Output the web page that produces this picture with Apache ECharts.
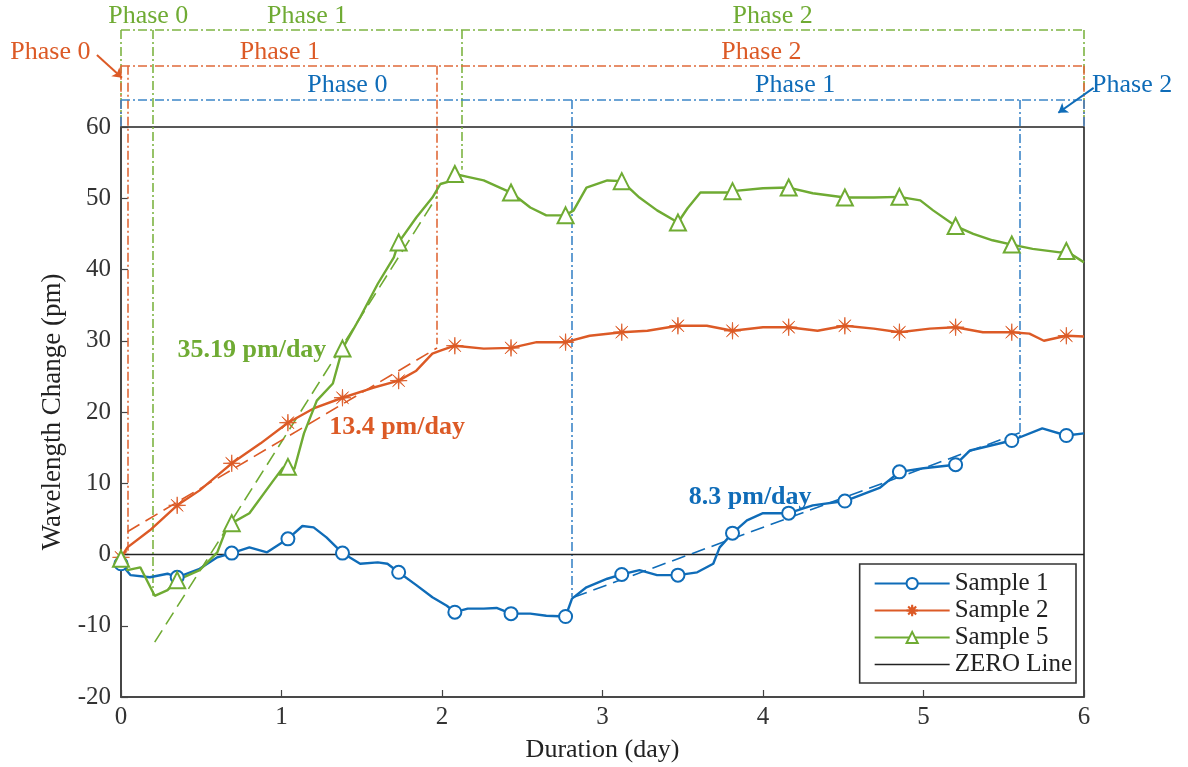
<!DOCTYPE html>
<html><head><meta charset="utf-8">
<script src="https://cdn.jsdelivr.net/npm/echarts@6/dist/echarts.min.js"></script>
<style>html,body{margin:0;padding:0;background:#fff}#main{width:1188px;height:767px}</style>
</head><body><div id="main"></div>
<script>
// ---------- data ----------
const markerDays = [0, 0.35, 0.69, 1.04, 1.38, 1.73, 2.08, 2.43, 2.77, 3.12, 3.47, 3.81, 4.16, 4.51, 4.85, 5.2, 5.55, 5.89];

const days1 = [0, 0.06, 0.18, 0.29, 0.35, 0.49, 0.6, 0.69, 0.8, 0.91, 1.04, 1.13, 1.2, 1.28, 1.38, 1.49, 1.6, 1.66, 1.73, 1.84, 1.94, 2.03, 2.08, 2.16, 2.26, 2.34, 2.43, 2.55, 2.65, 2.77, 2.81, 2.9, 3.03, 3.12, 3.23, 3.34, 3.47, 3.59, 3.69, 3.73, 3.81, 3.9, 4.0, 4.16, 4.31, 4.51, 4.73, 4.85, 5.0, 5.2, 5.29, 5.55, 5.74, 5.89, 6.0];
const vals1 = [-1.3, -2.9, -3.2, -2.7, -3.2, -2.0, -0.4, 0.2, 1.0, 0.3, 2.2, 4.0, 3.8, 2.4, 0.2, -1.3, -1.1, -1.3, -2.5, -4.3, -6.0, -7.2, -8.1, -7.6, -7.6, -7.5, -8.3, -8.3, -8.6, -8.7, -6.2, -4.6, -3.4, -2.8, -2.2, -2.9, -2.9, -2.5, -1.3, 1.0, 3.0, 4.8, 5.8, 5.8, 6.9, 7.5, 9.4, 11.6, 12.1, 12.6, 14.6, 16.0, 17.7, 16.7, 17.0];

const days2 = [0, 0.04, 0.18, 0.35, 0.49, 0.69, 0.87, 1.04, 1.2, 1.38, 1.57, 1.73, 1.84, 1.94, 1.99, 2.08, 2.26, 2.43, 2.59, 2.77, 2.92, 3.12, 3.28, 3.47, 3.65, 3.81, 4.0, 4.16, 4.34, 4.51, 4.69, 4.85, 5.04, 5.2, 5.37, 5.55, 5.66, 5.75, 5.89, 6.0];
const vals2 = [-0.4, 1.0, 3.4, 6.9, 9.0, 12.8, 15.6, 18.5, 20.5, 22.0, 23.4, 24.4, 25.8, 28.2, 28.6, 29.3, 28.9, 29.0, 29.8, 29.8, 30.7, 31.2, 31.4, 32.1, 32.1, 31.4, 31.9, 31.9, 31.4, 32.1, 31.7, 31.2, 31.7, 31.9, 31.2, 31.2, 31.0, 30.0, 30.7, 30.6];

const days5 = [0, 0.04, 0.12, 0.21, 0.29, 0.35, 0.49, 0.6, 0.66, 0.69, 0.8, 0.95, 1.01, 1.04, 1.08, 1.14, 1.22, 1.32, 1.38, 1.49, 1.6, 1.7, 1.73, 1.84, 1.94, 1.99, 2.07, 2.08, 2.16, 2.26, 2.36, 2.43, 2.55, 2.65, 2.77, 2.82, 2.9, 3.03, 3.12, 3.23, 3.34, 3.47, 3.53, 3.61, 3.78, 3.81, 4.0, 4.16, 4.31, 4.51, 4.69, 4.85, 4.98, 5.06, 5.2, 5.31, 5.43, 5.55, 5.68, 5.85, 5.89, 6.0];
const vals5 = [-0.6, -2.2, -1.8, -5.8, -5.0, -3.6, -2.2, 0.3, 3.8, 4.4, 5.8, 10.4, 12.2, 12.3, 12.0, 17.0, 21.6, 24.0, 28.9, 33.3, 38.0, 41.7, 43.8, 47.3, 50.1, 52.0, 52.5, 53.4, 53.0, 52.5, 51.5, 50.8, 48.7, 47.6, 47.6, 48.3, 51.5, 52.5, 52.4, 50.1, 48.3, 46.6, 48.6, 50.8, 50.8, 51.0, 51.4, 51.5, 50.7, 50.1, 50.1, 50.2, 49.7, 48.3, 46.1, 45.0, 44.1, 43.5, 42.9, 42.4, 42.6, 41.0];

// linear fits (dashed)
const fitDays1 = [2.82, 5.6],  fitVals1 = [-6.0, 17.1];
const fitDays2 = [0.04, 1.97], fitVals2 = [3.2, 29.0];
const fitDays5 = [0.21, 1.97], fitVals5 = [-12.3, 50.3];

const zeroDays = [0, 6], zeroVals = [0, 0];

// phase brackets (data coords)
const greenLevel = 73.6, redLevel = 68.6, blueLevel = 63.8;
const greenBounds = [0, 0.2, 2.12, 6],  greenBottoms = [60, -5.8, 54, 60];
const redBounds   = [0, 0.04, 1.97, 6], redBottoms   = [60, 0, 29.5, 60];
const blueBounds  = [0, 2.81, 5.6, 6],  blueBottoms  = [60, -6, 16.5, 60];

const phaseNames = ['Phase 0', 'Phase 1', 'Phase 2'];
const greenLabelX = [0.17, 1.16, 4.06], greenLabelY = 75.6;
const redLabelX   = [-0.44, 0.99, 3.99], redLabelY = 70.5;
const blueLabelX  = [1.41, 4.2, 6.3],  blueLabelY = 65.9;

const redArrow  = [[-0.15, 70.1], [0.006, 66.9]];
const blueArrow = [[6.06, 65.5], [5.84, 62.0]];

const rateTexts = ['35.19 pm/day', '13.4 pm/day', '8.3 pm/day'];
const rateX = [0.816, 1.72, 3.92], rateY = [28.6, 17.8, 8.0];

const xTicks = [0, 1, 2, 3, 4, 5, 6];
const yTicks = [-20, -10, 0, 10, 20, 30, 40, 50, 60];

// ---------- styling ----------
const FONT = '"Liberation Serif", "Times New Roman", serif';
const BLUE = '#0f6cb8', RED = '#dc5a26', GREEN = '#6fab33';
const BLUE_L = '#3d86c8', RED_L = '#e06a3a', GREEN_L = '#7db443';
const STAR = 'path://M0,-10 L0.6,-1.4 L7.07,-7.07 L1.4,-0.6 L10,0 L1.4,0.6 L7.07,7.07 L0.6,1.4 L0,10 L-0.6,1.4 L-7.07,7.07 L-1.4,0.6 L-10,0 L-1.4,-0.6 L-7.07,-7.07 L-0.6,-1.4 Z';
const DASHDOT = [9, 3, 2, 3];

function withMarkers(xs, ys) {
  return xs.map((x, i) => markerDays.includes(x) ? { value: [x, ys[i]] } : { value: [x, ys[i]], symbol: 'none' });
}
function pairs(xs, ys) { return xs.map((x, i) => [x, ys[i]]); }
function bracket(bounds, bottoms, level) {
  const segs = [{ coords: [[bounds[0], level], [bounds[bounds.length - 1], level]] }];
  bounds.forEach((b, i) => segs.push({ coords: [[b, level], [b, bottoms[i]]] }));
  return segs;
}
function bracketSeries(bounds, bottoms, level, color) {
  return {
    type: 'lines', coordinateSystem: 'cartesian2d', clip: false, silent: true, z: 1,
    lineStyle: { color: color, width: 1.6, type: DASHDOT, opacity: 1, curveness: 0 },
    data: bracket(bounds, bottoms, level)
  };
}
function fitSeries(xs, ys, color) {
  return {
    type: 'line', name: '_fit', data: pairs(xs, ys), symbol: 'none', silent: true, z: 2,
    lineStyle: { color: color, width: 1.6, type: [14, 7] }
  };
}
function arrowSeries(coords, color) {
  return {
    type: 'lines', coordinateSystem: 'cartesian2d', clip: false, silent: true, z: 3,
    symbol: ['none', 'arrow'], symbolSize: 9,
    lineStyle: { color: color, width: 2, opacity: 1, curveness: 0 },
    data: [{ coords: coords }]
  };
}

const chart = echarts.init(document.getElementById('main'), null, { renderer: 'canvas' });
const option = {
  backgroundColor: '#fff',
  animation: false,
  grid: { left: 121, right: 104, top: 127, bottom: 70, outerBoundsMode: 'none', containLabel: false,
          show: true, borderColor: '#222', borderWidth: 1.6, backgroundColor: 'transparent' },
  xAxis: {
    type: 'value', min: xTicks[0], max: xTicks[xTicks.length - 1], interval: 1,
    name: 'Duration (day)', nameLocation: 'middle', nameGap: 40,
    nameTextStyle: { fontFamily: FONT, fontSize: 26, color: '#222' },
    axisLine: { onZero: false, lineStyle: { color: '#444', width: 1.6 } },
    axisTick: { inside: true, length: 7, lineStyle: { color: '#444', width: 1.2 } },
    axisLabel: { fontFamily: FONT, fontSize: 25, color: '#333', margin: 8 },
    splitLine: { show: false }
  },
  yAxis: {
    type: 'value', min: yTicks[0], max: yTicks[yTicks.length - 1], interval: 10,
    name: 'Wavelength Change (pm)', nameLocation: 'middle', nameGap: 45,
    nameTextStyle: { fontFamily: FONT, fontSize: 27, color: '#222' },
    axisLine: { onZero: false, lineStyle: { color: '#444', width: 1.6 } },
    axisTick: { inside: true, length: 7, lineStyle: { color: '#444', width: 1.2 } },
    axisLabel: { fontFamily: FONT, fontSize: 25, color: '#333', margin: 10 },
    splitLine: { show: false }
  },
  legend: {
    data: [
      { name: 'Sample 1' }, { name: 'Sample 2' }, { name: 'Sample 5' },
      { name: 'ZERO Line', icon: 'path://M0,0 L100,0 L100,2 L0,2 Z' }
    ],
    orient: 'vertical', right: 112, top: 564,
    itemWidth: 75, itemHeight: 14, itemGap: 2,
    padding: [7, 4, 6, 14],
    borderColor: '#333', borderWidth: 1.6, backgroundColor: '#fff',
    selectedMode: false,
    textStyle: { fontFamily: FONT, fontSize: 25, color: '#222', lineHeight: 25 }
  },
  series: [
    bracketSeries(greenBounds, greenBottoms, greenLevel, GREEN_L),
    bracketSeries(redBounds, redBottoms, redLevel, RED_L),
    bracketSeries(blueBounds, blueBottoms, blueLevel, BLUE_L),
    arrowSeries(redArrow, RED),
    arrowSeries(blueArrow, BLUE),
    {
      type: 'line', name: 'ZERO Line', data: pairs(zeroDays, zeroVals), symbol: 'none', z: 2,
      color: '#222', lineStyle: { color: '#222', width: 1.6 }
    },
    fitSeries(fitDays5, fitVals5, GREEN),
    fitSeries(fitDays2, fitVals2, RED),
    fitSeries(fitDays1, fitVals1, BLUE),
    {
      type: 'line', name: 'Sample 1', data: withMarkers(days1, vals1), z: 5,
      symbol: 'emptyCircle', symbolSize: 13, showSymbol: true, showAllSymbol: true,
      color: BLUE, itemStyle: { color: BLUE, borderWidth: 1.6 }, lineStyle: { color: BLUE, width: 2.4 }
    },
    {
      type: 'line', name: 'Sample 2', data: withMarkers(days2, vals2), z: 5,
      symbol: STAR, symbolSize: 17, showSymbol: true, showAllSymbol: true,
      color: RED, itemStyle: { color: RED, borderColor: RED, borderWidth: 0.8 }, lineStyle: { color: RED, width: 2.4 }
    },
    {
      type: 'line', name: 'Sample 5', data: withMarkers(days5, vals5), z: 5,
      symbol: 'emptyTriangle', symbolSize: 16, showSymbol: true, showAllSymbol: true,
      color: GREEN, itemStyle: { color: GREEN, borderWidth: 1.6 }, lineStyle: { color: GREEN, width: 2.4 }
    }
  ]
};
chart.setOption(option);

// annotation texts placed through the chart's own coordinate system
function px(x, y) { return chart.convertToPixel({ gridIndex: 0 }, [x, y]); }
function txt(x, y, text, color, size, bold) {
  const p = px(x, y);
  return {
    type: 'text', x: p[0], y: p[1], z: 100, silent: true,
    style: { text: text, fill: color, align: 'center', verticalAlign: 'middle',
      font: (bold ? 'bold ' : '') + size + 'px ' + FONT }
  };
}
const g = [];
phaseNames.forEach((n, i) => g.push(txt(greenLabelX[i], greenLabelY, n, GREEN, 26, false)));
phaseNames.forEach((n, i) => g.push(txt(redLabelX[i], redLabelY, n, RED, 26, false)));
phaseNames.forEach((n, i) => g.push(txt(blueLabelX[i], blueLabelY, n, BLUE, 26, false)));
const rateColors = [GREEN, RED, BLUE];
rateTexts.forEach((t, i) => g.push(txt(rateX[i], rateY[i], t, rateColors[i], 26, true)));
chart.setOption({ graphic: g });
</script></body></html>
